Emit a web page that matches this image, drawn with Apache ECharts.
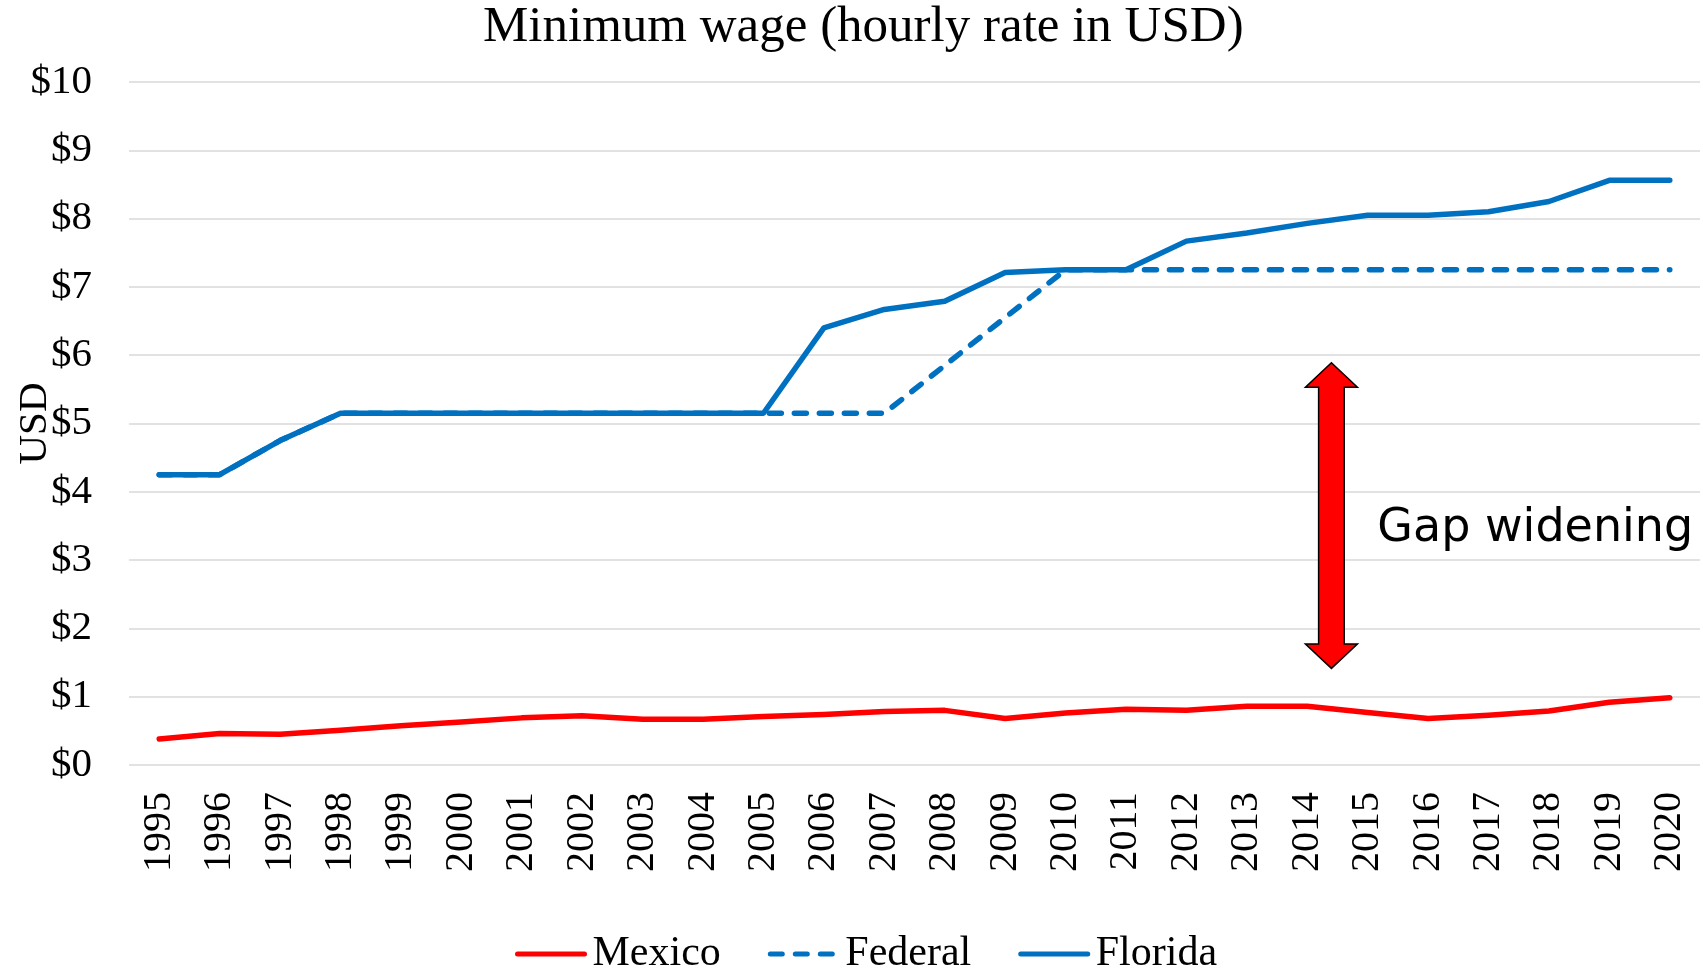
<!DOCTYPE html>
<html>
<head>
<meta charset="utf-8">
<script src="https://cdn.jsdelivr.net/npm/echarts@6/dist/echarts.min.js"></script>
<style>
html,body{margin:0;padding:0;background:#fff;}
#chart{width:1703px;height:968px;}
</style>
</head>
<body>
<div id="chart"></div>
<script>
const years = ['1995','1996','1997','1998','1999','2000','2001','2002','2003','2004','2005','2006','2007','2008','2009','2010','2011','2012','2013','2014','2015','2016','2017','2018','2019','2020'];
const mexico = [0.38,0.46,0.45,0.51,0.575,0.63,0.69,0.72,0.67,0.67,0.71,0.74,0.785,0.80,0.68,0.76,0.815,0.80,0.86,0.86,0.77,0.68,0.73,0.79,0.92,0.985];
const federal = [4.25,4.25,4.75,5.15,5.15,5.15,5.15,5.15,5.15,5.15,5.15,5.15,5.15,5.85,6.55,7.25,7.25,7.25,7.25,7.25,7.25,7.25,7.25,7.25,7.25,7.25];
const florida = [4.25,4.25,4.75,5.15,5.15,5.15,5.15,5.15,5.15,5.15,5.15,6.40,6.67,6.79,7.21,7.25,7.25,7.67,7.79,7.93,8.05,8.05,8.10,8.25,8.56,8.56];
const seriesNames = ['Mexico','Federal','Florida'];
const titleText = 'Minimum wage (hourly rate in USD)';
const yAxisName = 'USD';
const annotationText = 'Gap widening';
// arrow annotation anchored in data space: category index position and values of tips / head bases
const arrowAt = {x: 19.4, top: 5.89, headTop: 5.53, headBottom: 1.77, bottom: 1.415};
const textAt = {x: 20.16, y: 3.45};

const serif = 'Liberation Serif';
const chart = echarts.init(document.getElementById('chart'), null, {renderer: 'canvas'});

const option = {
  backgroundColor: '#ffffff',
  animation: false,
  title: {
    text: titleText,
    left: 483,
    top: 6,
    padding: 0,
    textStyle: {fontFamily: serif, fontSize: 51, fontWeight: 'normal', color: '#000', lineHeight: 44}
  },
  legend: {
    data: seriesNames,
    left: 515,
    top: 933,
    padding: 0,
    itemWidth: 67,
    itemHeight: 14,
    itemGap: 47,
    itemStyle: {opacity: 0},
    lineStyle: {width: 5, cap: 'round'},
    textStyle: {fontFamily: serif, fontSize: 42, color: '#000', lineHeight: 42, padding: [0,0,0,3]}
  },
  grid: {left: 129, right: 3, top: 82, bottom: 203, containLabel: false, outerBoundsMode: 'none'},
  xAxis: {
    type: 'category',
    data: years,
    boundaryGap: true,
    axisLine: {show: false},
    axisTick: {show: false},
    axisLabel: {rotate: 90, margin: 27, fontFamily: serif, fontSize: 40, color: '#000'}
  },
  yAxis: {
    type: 'value',
    min: 0, max: 10, interval: 1,
    name: yAxisName,
    nameLocation: 'middle',
    nameRotate: 90,
    nameGap: 73,
    nameMoveOverlap: false,
    nameTextStyle: {fontFamily: serif, fontSize: 41, color: '#000'},
    axisLine: {show: false},
    axisTick: {show: false},
    splitLine: {lineStyle: {color: '#D9D9D9', width: 1.5}},
    axisLabel: {margin: 37, fontFamily: serif, fontSize: 41, color: '#000', formatter: v => '$' + v}
  },
  series: [
    {name: seriesNames[0], type: 'line', data: mexico, symbol: 'none', z: 3,
     lineStyle: {color: '#FF0000', width: 5.5, cap: 'round', join: 'round'}, itemStyle: {color: '#FF0000'}},
    {name: seriesNames[1], type: 'line', data: federal, symbol: 'none', z: 2,
     lineStyle: {color: '#0070C0', width: 5.5, type: [12, 13], cap: 'round', join: 'round'}, itemStyle: {color: '#0070C0'}},
    {name: seriesNames[2], type: 'line', data: florida, symbol: 'none', z: 4,
     lineStyle: {color: '#0070C0', width: 5.5, cap: 'round', join: 'round'}, itemStyle: {color: '#0070C0'}}
  ]
};
chart.setOption(option);

function px(xIdx, val) {
  const i0 = Math.floor(xIdx);
  const p0 = chart.convertToPixel({xAxisIndex: 0, yAxisIndex: 0}, [i0, val]);
  const p1 = chart.convertToPixel({xAxisIndex: 0, yAxisIndex: 0}, [i0 + 1, val]);
  return [p0[0] + (p1[0] - p0[0]) * (xIdx - i0), p0[1]];
}
const tTop = px(arrowAt.x, arrowAt.top);
const hTop = px(arrowAt.x, arrowAt.headTop);
const hBot = px(arrowAt.x, arrowAt.headBottom);
const tBot = px(arrowAt.x, arrowAt.bottom);
const cx = tTop[0], headHW = 26, shaftHW = 12.8;
const arrowPts = [
  [cx, tTop[1]],
  [cx + headHW, hTop[1]],
  [cx + shaftHW, hTop[1]],
  [cx + shaftHW, hBot[1]],
  [cx + headHW, hBot[1]],
  [cx, tBot[1]],
  [cx - headHW, hBot[1]],
  [cx - shaftHW, hBot[1]],
  [cx - shaftHW, hTop[1]],
  [cx - headHW, hTop[1]]
];
const tp = px(textAt.x, textAt.y);
chart.setOption({
  graphic: [
    {type: 'polygon', z: 10, shape: {points: arrowPts},
     style: {fill: '#FF0000', stroke: '#000000', lineWidth: 1.5}},
    {type: 'text', z: 10, x: tp[0], y: tp[1],
     style: {text: annotationText, font: '46px "DejaVu Sans"', fill: '#000', textAlign: 'left', textVerticalAlign: 'middle'}}
  ]
});
</script>
</body>
</html>
